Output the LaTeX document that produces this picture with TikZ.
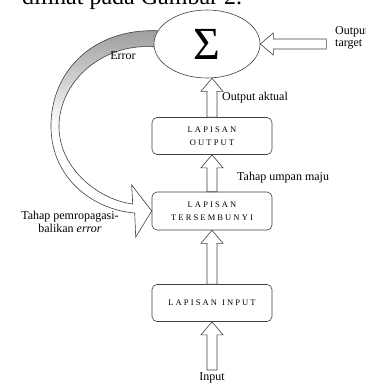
\documentclass[tikz,border=0pt]{standalone}
\usepackage{fontspec}
\setmainfont{Liberation Serif}
\newfontfamily\capsfont[LetterSpace=25]{Liberation Serif}
\usepackage{tikz}
\usetikzlibrary{calc,shapes.geometric,backgrounds}

\tikzset{
    layer/.style={draw=black!75, line width=0.6pt, rounded corners=5pt, fill=white,
        minimum width=120pt, minimum height=37pt, align=center,
        font=\capsfont\fontsize{8.5}{13}\selectfont},
    fat/.style={draw=black!75, fill=white, line width=0.6pt},
    lbl/.style={font=\fontsize{12}{12.5}\selectfont, inner sep=0pt}
}

% hollow arrows: #1 tail, #2 tip
\newcommand{\fatup}[2]{\draw[fat] ($(#1)+(-5,0)$) -- ($(#2)+(-5,13)$) -- ($(#2)+(-11,13)$) -- (#2)
    -- ($(#2)+(11,13)$) -- ($(#2)+(5,13)$) -- ($(#1)+(5,0)$) -- cycle;}
\newcommand{\fatleft}[2]{\draw[fat] ($(#1)+(0,-5)$) -- ($(#2)+(13,-5)$) -- ($(#2)+(13,-11)$) -- (#2)
    -- ($(#2)+(13,11)$) -- ($(#2)+(13,5)$) -- ($(#1)+(0,5)$) -- cycle;}
\newcommand{\errpath}{(e1) .. controls (95,28) and (50,70) .. (51,128)
    .. controls (52,180) and (95,210) .. ($(hbox.west)+(-17,2)$)
    -- ($(hbox.west)+(-16,26)$) -- (hbox.west) -- ($(hbox.west)+(-20,-26)$)
    -- ($(hbox.west)+(-19,-7)$) .. controls (100,200) and (60,170) .. (59,128)
    .. controls (58,84) and (100,43) .. (e2) -- cycle}

\begin{document}
\begin{tikzpicture}[x=1pt, y=-1pt]
    \useasboundingbox (0,0) rectangle (366,383);
    \clip (0,0) rectangle (366,383);

    % line of text cut off above the figure
    \node[anchor=base west, inner sep=0pt, font=\fontsize{24}{24}\selectfont] (cap) at (22,4) {dilihat pada Gambar 2.};

    \node[ellipse, draw=black!75, line width=0.6pt, fill=white, minimum width=106pt, minimum height=68pt,
        font=\fontsize{46}{46}\selectfont] (sum) at (207,44) {Σ};

    \node[layer] (obox) at (212,136) {LAPISAN\\OUTPUT};
    \node[layer, minimum height=38pt] (hbox) at (212,211) {LAPISAN\\TERSEMBUNYI};
    \node[layer] (ibox) at (212,303) {LAPISAN\hspace{5pt}INPUT};

    \coordinate (inp) at (212,370);
    \coordinate (act) at (obox.north |- sum.south);
    \coordinate (tgt) at ($(sum.east)+(66,0)$);
    \coordinate (e1) at (sum.165);
    \coordinate (e2) at (sum.183);

    \fatup{inp}{ibox.south}
    \fatup{ibox.north}{hbox.south}
    \fatup{hbox.north}{obox.south}
    \fatup{obox.north}{act}
    \fatleft{tgt}{sum.east}

    % error fed back to the hidden layer
    \begin{pgfonlayer}{background}
        \fill[white] \errpath;
        \begin{scope}
            \clip \errpath;
            \shade[top color=gray!80, bottom color=white] (40,25) rectangle (165,125);
        \end{scope}
        \draw[fat, fill=none] \errpath;
    \end{pgfonlayer}

    \node[lbl] (lerr) at (123,56) {Error};
    \node[lbl, anchor=west] (lact) at (222,98) {Output aktual};
    \node[lbl, anchor=west] (lmaju) at (237,178) {Tahap umpan maju};
    \node[lbl, anchor=west, align=left] (ltgt) at (335,38) {Output\\target};
    \node[lbl, align=center] (lback) at (70,222) {Tahap pemropagasi-\\balikan \textit{error}};
    \node[lbl] (lin) at (212,378) {Input};
\end{tikzpicture}
\end{document}
